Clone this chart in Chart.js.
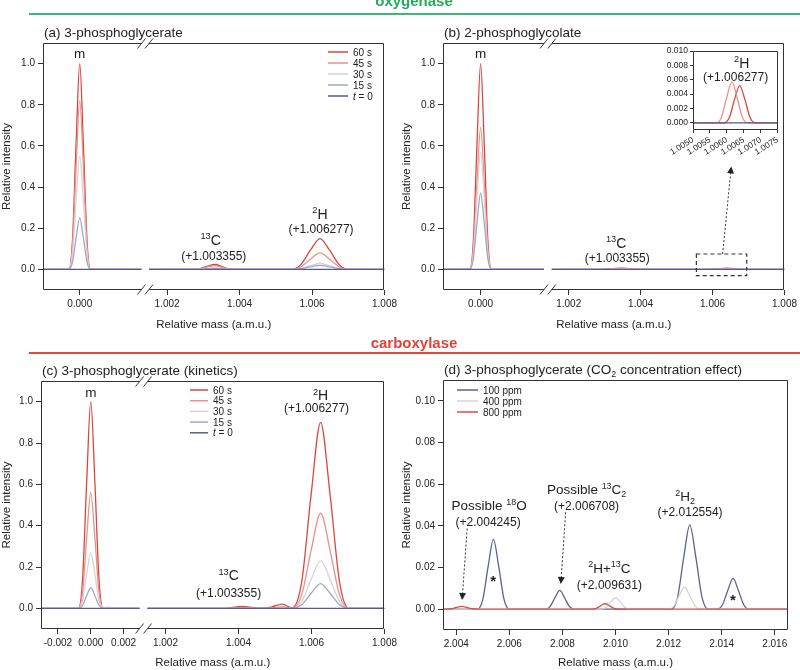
<!DOCTYPE html>
<html>
<head>
<meta charset="utf-8">
<script src="https://cdn.jsdelivr.net/npm/chart.js@4.4.1/dist/chart.umd.min.js"></script>
<style>
  body { margin: 0; background: #fff; width: 800px; height: 670px; position: relative; overflow: hidden; font-family: 'Liberation Sans', Arial, sans-serif; }
  canvas { position: absolute; }
  .head { position: absolute; left: 0; width: 828px; text-align: center; font-weight: bold; font-size: 15px; line-height: 15px; }
  .rule { position: absolute; left: 29px; right: 0; height: 2px; }
</style>
</head>
<body>
<canvas id="cA" width="400" height="335" style="left:0;top:0"></canvas>
<canvas id="cB" width="400" height="335" style="left:400px;top:0"></canvas>
<canvas id="cInset" width="130" height="112" style="left:655px;top:44px"></canvas>
<canvas id="cC" width="400" height="330" style="left:0;top:340px"></canvas>
<canvas id="cD" width="400" height="330" style="left:400px;top:340px"></canvas>

<div class="head" style="top:-7px;color:#27a85a">oxygenase</div>
<div class="rule" style="top:13px;background:#3cb878"></div>
<div class="head" style="top:335px;color:#e0433a">carboxylase</div>
<div class="rule" style="top:352px;background:#e0473d"></div>

<script>
const FONT = "'Liberation Sans', Arial, Helvetica, sans-serif";
Chart.defaults.font.family = FONT;
Chart.defaults.color = '#222';

// series names and colours
const timeLabels = ['60 s', '45 s', '30 s', '15 s', 't = 0'];
const timeColors = ['#d8473c', '#e9918a', '#ddd0d6', '#a2a7ca', '#555a94'];
const ppmLabels = ['100 ppm', '400 ppm', '800 ppm'];
const ppmColors = ['#5b6190', '#d4d4d4', '#df4f45'];

// tick labels
const intensityTicks = [0, 0.2, 0.4, 0.6, 0.8, 1.0];
const massTicksAB = [0, 1.002, 1.004, 1.006, 1.008];
const massTicksC = [-0.002, 0, 0.002, 1.002, 1.004, 1.006, 1.008];
const massTicksD = [2.004, 2.006, 2.008, 2.010, 2.012, 2.014, 2.016];
const intensityTicksD = [0, 0.02, 0.04, 0.06, 0.08, 0.10];
const insetMassTicks = [1.005, 1.0055, 1.006, 1.0065, 1.007, 1.0075];
const insetIntensityTicks = [0, 0.002, 0.004, 0.006, 0.008, 0.010];

// (a) 3-phosphoglycerate, oxygenase  (null = axis break)
const massA = [-0.001, -0.0003, -0.0002, -0.0001, 0, 0.0001, 0.0002, 0.0003, 0.0017, null,
  1.0015, 1.0027, 1.0029, 1.0031, 1.00333, 1.0035, 1.0037, 1.0039,
  1.0054, 1.00568, 1.00595, 1.00622, 1.00649, 1.00676, 1.00704, 1.008];
const a60 = [0, 0, 0.14, 0.61, 1.00, 0.61, 0.14, 0, 0, null, 0, 0, 0.003, 0.015, 0.024, 0.015, 0.003, 0, 0, 0.021, 0.092, 0.150, 0.092, 0.021, 0, 0];
const a45 = [0, 0, 0.115, 0.50, 0.82, 0.50, 0.115, 0, 0, null, 0, 0, 0.002, 0.011, 0.018, 0.011, 0.002, 0, 0, 0.011, 0.049, 0.080, 0.049, 0.011, 0, 0];
const a30 = [0, 0, 0.077, 0.335, 0.55, 0.335, 0.077, 0, 0, null, 0, 0, 0.001, 0.005, 0.008, 0.005, 0.001, 0, 0, 0.004, 0.018, 0.030, 0.018, 0.004, 0, 0];
const a15 = [0, 0, 0.035, 0.153, 0.25, 0.153, 0.035, 0, 0, null, 0, 0, 0, 0.002, 0.004, 0.002, 0, 0, 0, 0.003, 0.012, 0.020, 0.012, 0.003, 0, 0];
const a0 = [0, 0, 0, 0, 0, 0, 0, 0, 0, null, 0, 0, 0, 0, 0, 0, 0, 0, 0, 0, 0, 0, 0, 0, 0, 0];

// (b) 2-phosphoglycolate
const massB = [-0.00104, -0.0003, -0.0002, -0.0001, 0, 0.0001, 0.0002, 0.0003, 0.00175, null,
  1.00153, 1.0028, 1.003, 1.0032, 1.00345, 1.0037, 1.0039, 1.0041,
  1.0058, 1.006, 1.0062, 1.0064, 1.0066, 1.0068, 1.007, 1.008];
const b60 = [0, 0, 0.14, 0.61, 1.00, 0.61, 0.14, 0, 0, null, 0, 0, 0.001, 0.004, 0.006, 0.004, 0.001, 0, 0, 0.001, 0.003, 0.005, 0.003, 0.001, 0, 0];
const b45 = [0, 0, 0.097, 0.42, 0.69, 0.42, 0.097, 0, 0, null, 0, 0, 0.001, 0.003, 0.005, 0.003, 0.001, 0, 0, 0.001, 0.0035, 0.0057, 0.0035, 0.001, 0, 0];
const b30 = [0, 0, 0.08, 0.35, 0.57, 0.35, 0.08, 0, 0, null, 0, 0, 0, 0.001, 0.002, 0.001, 0, 0, 0, 0, 0, 0, 0, 0, 0, 0];
const b15 = [0, 0, 0.052, 0.226, 0.37, 0.226, 0.052, 0, 0, null, 0, 0, 0, 0, 0, 0, 0, 0, 0, 0, 0, 0, 0, 0, 0, 0];
const b0 = [0, 0, 0, 0, 0, 0, 0, 0, 0, null, 0, 0, 0, 0, 0, 0, 0, 0, 0, 0, 0, 0, 0, 0, 0, 0];

// inset of (b): 2H peak
const insetMass60 = [1.005, 1.00593, 1.00608, 1.00623, 1.00638, 1.00653, 1.00668, 1.00683, 1.0075];
const insetInt60 = [0, 0, 0.0008, 0.0033, 0.0052, 0.0033, 0.0008, 0, 0];
const insetMass45 = [1.005, 1.0057, 1.00585, 1.006, 1.00615, 1.0063, 1.00645, 1.0066, 1.0075];
const insetInt45 = [0, 0, 0.0009, 0.0036, 0.0057, 0.0036, 0.0009, 0, 0];
const insetMassBase = [1.005, 1.0075];
const insetIntBase = [0, 0];

// (c) 3-phosphoglycerate kinetics, carboxylase
const massC = [-0.00303, -0.00075, -0.0005, -0.00025, 0, 0.00025, 0.0005, 0.00075, 0.001, 0.0013, 0.00297, null,
  1.00151, 1.0036, 1.0041, 1.0046, 1.0049, 1.0052, 1.00547,
  1.00573, 1.00599, 1.00625, 1.00651, 1.00677, 1.00703, 1.008];
const c60 = [0, 0, 0.14, 0.61, 1.00, 0.61, 0.14, 0, 0, 0, 0, null, 0, 0, 0.009, 0.001, 0.006, 0.02, 0.003, 0.126, 0.55, 0.90, 0.55, 0.126, 0, 0];
const c45 = [0, 0, 0.078, 0.34, 0.56, 0.34, 0.078, 0, 0, 0, 0, null, 0, 0, 0.004, 0, 0.002, 0.008, 0.001, 0.064, 0.28, 0.46, 0.28, 0.064, 0, 0];
const c30 = [0, 0, 0.038, 0.165, 0.27, 0.165, 0.038, 0.004, 0.006, 0, 0, null, 0, 0, 0, 0, 0, 0, 0, 0.032, 0.14, 0.23, 0.14, 0.032, 0, 0];
const c15 = [0, 0, 0.014, 0.061, 0.10, 0.061, 0.014, 0, 0, 0, 0, null, 0, 0, 0, 0, 0, 0, 0, 0.017, 0.073, 0.12, 0.073, 0.017, 0, 0];
const c0 = [0, 0, 0, 0, 0, 0, 0, 0, 0, 0, 0, null, 0, 0, 0, 0, 0, 0, 0, 0, 0, 0, 0, 0, 0, 0];

// (d) CO2 concentration effect
const mass100 = [2.0035, 2.0048, 2.005, 2.0052, 2.0054, 2.0056, 2.0058, 2.006,
  2.0074, 2.00754, 2.00772, 2.0079, 2.00808, 2.00826, 2.00844,
  2.0121, 2.01234, 2.01257, 2.0128, 2.01303, 2.01326, 2.0135,
  2.01383, 2.01403, 2.01423, 2.01443, 2.01463, 2.01483, 2.01503, 2.0165];
const int100 = [0, 0, 0.0047, 0.0204, 0.0335, 0.0204, 0.0047, 0,
  0, 0.0013, 0.0055, 0.009, 0.0055, 0.0013, 0,
  0, 0.0057, 0.0247, 0.0405, 0.0247, 0.0057, 0,
  0, 0.0021, 0.009, 0.0148, 0.009, 0.0021, 0, 0];
const mass400 = [2.0035, 2.00946, 2.00964, 2.00982, 2.01, 2.01018, 2.01036, 2.01054,
  2.012, 2.0122, 2.0124, 2.0126, 2.0128, 2.013, 2.0132, 2.0165];
const int400 = [0, 0, 0.0008, 0.0034, 0.0055, 0.0034, 0.0008, 0, 0, 0.0015, 0.0065, 0.0106, 0.0065, 0.0015, 0, 0];
const mass800 = [2.0035, 2.0036, 2.0038, 2.004, 2.0042, 2.0044, 2.0046, 2.0048,
  2.0091, 2.00927, 2.00944, 2.00961, 2.00978, 2.00995, 2.01012, 2.0165];
const int800 = [0, 0, 0.0002, 0.0008, 0.0013, 0.0008, 0.0002, 0, 0, 0.0004, 0.0016, 0.0026, 0.0016, 0.0004, 0, 0];

// broken axis: mass -> position along a plain linear axis
function brokenAxis(seg1, seg2) {
  return m => m < 0.5 ? seg1.d + (m - seg1.m) * seg1.k : seg2.d + (m - seg2.m) * seg2.k;
}

// text with superscripts / subscripts, centred at (cx, cy)
function rich(ctx, parts, cx, cy, size, align) {
  const fonts = parts.map(([t, k]) => {
    const s = (k === 'sup' || k === 'sub') ? size * 0.66 : size;
    return (k === 'i' ? 'italic ' : k === 'b' ? 'bold ' : '') + s + 'px ' + FONT;
  });
  let w = 0;
  parts.forEach(([t], i) => { ctx.font = fonts[i]; w += ctx.measureText(t).width; });
  let x = align === 'left' ? cx : cx - w / 2;
  const base = cy + size * 0.36;
  ctx.textAlign = 'left';
  ctx.textBaseline = 'alphabetic';
  parts.forEach(([t, k], i) => {
    ctx.font = fonts[i];
    const dy = k === 'sup' ? -size * 0.4 : k === 'sub' ? size * 0.25 : 0;
    ctx.fillText(t, x, base + dy);
    x += ctx.measureText(t).width;
  });
  return w;
}

function arrow(ctx, x1, y1, x2, y2) {
  ctx.setLineDash([2, 2]);
  ctx.beginPath(); ctx.moveTo(x1, y1); ctx.lineTo(x2, y2); ctx.stroke();
  ctx.setLineDash([]);
  const a = Math.atan2(y2 - y1, x2 - x1);
  ctx.beginPath();
  ctx.moveTo(x2, y2);
  ctx.lineTo(x2 - 7 * Math.cos(a) + 3.5 * Math.sin(a), y2 - 7 * Math.sin(a) - 3.5 * Math.cos(a));
  ctx.lineTo(x2 - 7 * Math.cos(a) - 3.5 * Math.sin(a), y2 - 7 * Math.sin(a) + 3.5 * Math.cos(a));
  ctx.closePath(); ctx.fill();
}

function legendParts(lbl) {
  return lbl.startsWith('t ') ? [['t', 'i'], [lbl.slice(1), '']] : [[lbl, '']];
}

function panel(id, p) {
  const map = p.map || (m => m);
  const datasets = p.series.map((s, i) => ({
    label: s.label,
    data: s.mass.map((m, j) => m === null
      ? { x: (map(s.mass[j - 1]) + map(s.mass[j + 1])) / 2, y: null }
      : { x: map(m), y: s.vals[j] }),
    borderColor: s.color,
    borderWidth: 1.3,
    pointRadius: 0,
    fill: false,
    cubicInterpolationMode: 'monotone',
    spanGaps: false,
    order: p.series.length - 1 - i
  }));

  let gap = null;
  const k = p.series[0].mass.indexOf(null);
  if (k > 0) gap = [map(p.series[0].mass[k - 1]), map(p.series[0].mass[k + 1])];

  const tickFont = { size: p.tickSize || 10, family: FONT };
  const deco = {
    id: 'deco_' + id,
    afterDraw(chart) {
      const { ctx, chartArea: ca, scales } = chart;
      const X = m => scales.x.getPixelForValue(map(m));
      const Y = v => scales.y.getPixelForValue(v);
      ctx.save();
      ctx.strokeStyle = '#333';
      ctx.fillStyle = '#222';
      ctx.lineWidth = 1;
      const L = Math.round(ca.left) + 0.5, R = Math.round(ca.right) - 0.5;
      const T = Math.round(ca.top) + 0.5, B = Math.round(ca.bottom) - 0.5;
      ctx.beginPath();
      ctx.moveTo(L, T); ctx.lineTo(L, B);
      ctx.moveTo(R, T); ctx.lineTo(R, B);
      if (gap) {
        const g1 = scales.x.getPixelForValue(gap[0]), g2 = scales.x.getPixelForValue(gap[1]);
        [T, B].forEach(yy => {
          ctx.moveTo(L, yy); ctx.lineTo(g1, yy);
          ctx.moveTo(g2, yy); ctx.lineTo(R, yy);
          [g1, g2].forEach(g => { ctx.moveTo(g - 4, yy + 5); ctx.lineTo(g + 4, yy - 5); });
        });
      } else {
        ctx.moveTo(L, T); ctx.lineTo(R, T);
        ctx.moveTo(L, B); ctx.lineTo(R, B);
      }
      ctx.stroke();

      if (p.title) rich(ctx, p.title, ca.left + 1, ca.top - 11, 13.5, 'left');
      (p.labels || []).forEach(l => rich(ctx, l.parts, X(l.m), Y(l.v), l.size || 12));

      if (p.box) {
        ctx.setLineDash([4, 3]);
        ctx.lineWidth = 1.2;
        const x1 = X(p.box[0]), x2 = X(p.box[1]), y1 = Y(p.box[3]), y2 = Y(p.box[2]);
        ctx.strokeRect(x1, y1, x2 - x1, y2 - y1);
        ctx.setLineDash([]);
        ctx.lineWidth = 1;
      }
      (p.arrows || []).forEach(a => arrow(ctx, X(a[0]), Y(a[1]), X(a[2]), Y(a[3])));

      if (p.legend) {
        const lg = p.legend;
        p.series.forEach((s, i) => {
          const yy = ca.top + lg.top + i * lg.step;
          const xx = ca.left + lg.left;
          ctx.strokeStyle = s.color;
          ctx.lineWidth = 1.5;
          ctx.beginPath(); ctx.moveTo(xx, yy); ctx.lineTo(xx + lg.len, yy); ctx.stroke();
          ctx.fillStyle = '#222';
          rich(ctx, legendParts(s.label), xx + lg.len + 5, yy, 10, 'left');
        });
      }
      ctx.restore();
    }
  };

  return new Chart(document.getElementById(id), {
    type: 'line',
    data: { datasets },
    options: {
      responsive: false,
      animation: false,
      events: [],
      layout: { padding: { top: p.pad[0], right: p.pad[1], left: 0, bottom: 0 } },
      plugins: { legend: { display: false }, tooltip: { enabled: false } },
      scales: {
        x: {
          type: 'linear', min: p.xMin, max: p.xMax,
          afterFit: s => { s.height = p.xH; },
          afterBuildTicks: s => { s.ticks = p.xTicks.map(m => ({ value: map(m) })); },
          ticks: {
            autoSkip: false, maxRotation: p.rot || 0, minRotation: p.rot || 0,
            padding: p.tickPad != null ? p.tickPad : 3, font: tickFont, color: '#222',
            callback: (v, i) => p.xTicks[i].toFixed(p.xDigits)
          },
          grid: { drawOnChartArea: false, drawTicks: true, tickLength: p.tickLen || 5, color: '#333' },
          border: { display: false },
          title: {
            display: !!p.xTitle, text: p.xTitle || '', color: '#222',
            font: { size: 11.5, family: FONT }, padding: { top: 0, bottom: p.xTitlePad || 0 }
          }
        },
        y: {
          type: 'linear', min: p.yMin, max: p.yMax,
          afterFit: s => { s.width = p.yW; },
          afterBuildTicks: s => { s.ticks = p.yTicks.map(v => ({ value: v })); },
          ticks: {
            padding: p.tickPad != null ? p.tickPad : 3, font: tickFont, color: '#222',
            callback: (v, i) => p.yTicks[i].toFixed(p.yDigits)
          },
          grid: { drawOnChartArea: false, drawTicks: true, tickLength: p.tickLen || 5, color: '#333' },
          border: { display: false },
          title: {
            display: !!p.yTitle, text: p.yTitle || '', color: '#222',
            font: { size: 11.5, family: FONT }, padding: { top: 0, bottom: 0 }
          }
        }
      }
    },
    plugins: [deco]
  });
}

const timeSeries = (mass, arrs) => arrs.map((v, i) => ({ mass, vals: v, label: timeLabels[i], color: timeColors[i] }));

panel('cA', {
  map: brokenAxis({ m: 0, d: 37, k: 36600 }, { m: 1.002, d: 125, k: 36500 }),
  series: timeSeries(massA, [a60, a45, a30, a15, a0]),
  xMin: 0, xMax: 344, xTicks: massTicksAB, xDigits: 3,
  yMin: -0.1, yMax: 1.1, yTicks: intensityTicks, yDigits: 1,
  pad: [43, 13], xH: 45, yW: 43, xTitlePad: 3,
  xTitle: 'Relative mass (a.m.u.)', yTitle: 'Relative intensity',
  title: [['(a) 3-phosphoglycerate', '']],
  labels: [
    { m: 0, v: 1.05, parts: [['m', '']], size: 13.5 },
    { m: 1.0032, v: 0.145, parts: [['13', 'sup'], ['C', '']], size: 14 },
    { m: 1.00329, v: 0.068, parts: [['(+1.003355)', '']] },
    { m: 1.00622, v: 0.271, parts: [['2', 'sup'], ['H', '']], size: 14 },
    { m: 1.00625, v: 0.198, parts: [['(+1.006277)', '']] }
  ],
  legend: { left: 285, top: 9, step: 11, len: 20 }
});

panel('cB', {
  map: brokenAxis({ m: 0, d: 38, k: 36600 }, { m: 1.002, d: 127, k: 36333 }),
  series: timeSeries(massB, [b60, b45, b30, b15, b0]),
  xMin: 0, xMax: 345, xTicks: massTicksAB, xDigits: 3,
  yMin: -0.1, yMax: 1.1, yTicks: intensityTicks, yDigits: 1,
  pad: [43, 12], xH: 45, yW: 43, xTitlePad: 3,
  xTitle: 'Relative mass (a.m.u.)', yTitle: 'Relative intensity',
  title: [['(b) 2-phosphoglycolate', '']],
  labels: [
    { m: 0, v: 1.05, parts: [['m', '']], size: 13.5 },
    { m: 1.00332, v: 0.13, parts: [['13', 'sup'], ['C', '']], size: 14 },
    { m: 1.00335, v: 0.058, parts: [['(+1.003355)', '']] }
  ],
  box: [1.00555, 1.00695, -0.03, 0.075],
  arrows: [[1.00628, 0.075, 1.00652, 0.50]]
});

panel('cInset', {
  series: [
    { mass: insetMass60, vals: insetInt60, label: timeLabels[0], color: timeColors[0] },
    { mass: insetMass45, vals: insetInt45, label: timeLabels[1], color: timeColors[1] },
    { mass: insetMassBase, vals: insetIntBase, label: timeLabels[4], color: timeColors[4] }
  ],
  xMin: 1.005, xMax: 1.0075, xTicks: insetMassTicks, xDigits: 4,
  yMin: -0.001, yMax: 0.010, yTicks: insetIntensityTicks, yDigits: 3,
  pad: [6, 5], xH: 26, yW: 38, tickSize: 8.5, tickLen: 3, tickPad: 2, rot: 32,
  labels: [
    { m: 1.00644, v: 0.0084, parts: [['2', 'sup'], ['H', '']], size: 14 },
    { m: 1.00626, v: 0.0065, parts: [['(+1.006277)', '']] }
  ]
});

panel('cC', {
  map: brokenAxis({ m: 0, d: 50, k: 16500 }, { m: 1.002, d: 125, k: 36667 }),
  series: timeSeries(massC, [c60, c45, c30, c15, c0]),
  xMin: 0, xMax: 345, xTicks: massTicksC, xDigits: 3,
  yMin: -0.1, yMax: 1.1, yTicks: intensityTicks, yDigits: 1,
  pad: [41, 14], xH: 41, yW: 41, xTitlePad: 0,
  xTitle: 'Relative mass (a.m.u.)', yTitle: 'Relative intensity',
  title: [['(c) 3-phosphoglycerate (kinetics)', '']],
  labels: [
    { m: 0, v: 1.046, parts: [['m', '']], size: 13.5 },
    { m: 1.00625, v: 1.031, parts: [['2', 'sup'], ['H', '']], size: 14 },
    { m: 1.00614, v: 0.969, parts: [['(+1.006277)', '']] },
    { m: 1.00373, v: 0.16, parts: [['13', 'sup'], ['C', '']], size: 14 },
    { m: 1.00373, v: 0.077, parts: [['(+1.003355)', '']] }
  ],
  legend: { left: 149, top: 9, step: 10.7, len: 18 }
});

panel('cD', {
  series: [
    { mass: mass100, vals: int100, label: ppmLabels[0], color: ppmColors[0] },
    { mass: mass400, vals: int400, label: ppmLabels[1], color: ppmColors[1] },
    { mass: mass800, vals: int800, label: ppmLabels[2], color: ppmColors[2] }
  ],
  xMin: 2.0035, xMax: 2.0165, xTicks: massTicksD, xDigits: 3,
  yMin: -0.01, yMax: 0.11, yTicks: intensityTicksD, yDigits: 2,
  pad: [40, 12], xH: 40, yW: 43, xTitlePad: 0,
  xTitle: 'Relative mass (a.m.u.)', yTitle: 'Relative intensity',
  title: [['(d) 3-phosphoglycerate (CO', ''], ['2', 'sub'], [' concentration effect)', '']],
  labels: [
    { m: 2.00524, v: 0.0499, parts: [['Possible ', ''], ['18', 'sup'], ['O', '']], size: 13.5 },
    { m: 2.0052, v: 0.0421, parts: [['(+2.004245)', '']] },
    { m: 2.00891, v: 0.0576, parts: [['Possible ', ''], ['13', 'sup'], ['C', ''], ['2', 'sub']], size: 13.5 },
    { m: 2.00891, v: 0.0499, parts: [['(+2.006708)', '']] },
    { m: 2.00977, v: 0.0199, parts: [['2', 'sup'], ['H+', ''], ['13', 'sup'], ['C', '']], size: 13.5 },
    { m: 2.00977, v: 0.0116, parts: [['(+2.009631)', '']] },
    { m: 2.01262, v: 0.0542, parts: [['2', 'sup'], ['H', ''], ['2', 'sub']], size: 13.5 },
    { m: 2.01281, v: 0.047, parts: [['(+2.012554)', '']] },
    { m: 2.00539, v: 0.0136, parts: [['*', 'b']], size: 15 },
    { m: 2.01442, v: 0.0048, parts: [['*', 'b']], size: 15 }
  ],
  arrows: [[2.00441, 0.0387, 2.00422, 0.0044], [2.00812, 0.0465, 2.00794, 0.0121]],
  legend: { left: 14, top: 10, step: 11, len: 21 }
});
</script>
</body>
</html>
